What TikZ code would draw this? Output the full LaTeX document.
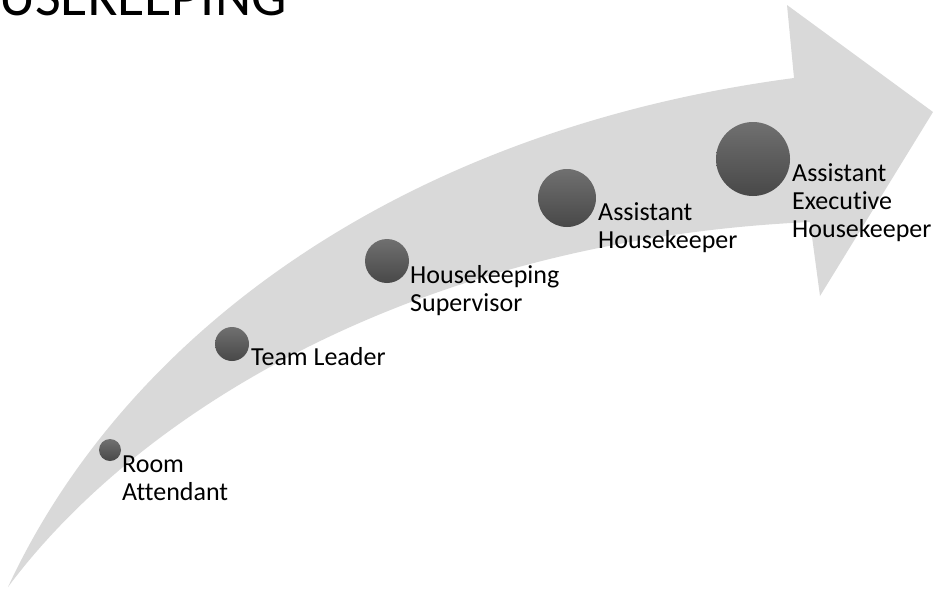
\documentclass[tikz,border=0pt]{standalone}
\usepackage{fontspec}
\setmainfont{Carlito}[Ligatures={NoCommon,NoContextual}]
\definecolor{arrowgray}{RGB}{217,217,217}
\definecolor{balltop}{RGB}{112,112,112}
\definecolor{ballbot}{RGB}{72,72,72}
\begin{document}
\begin{tikzpicture}[x=1pt,y=-1pt,
  stage/.style={circle, inner sep=0pt, minimum size=#1, top color=balltop, bottom color=ballbot, draw=none},
  lbl/.style={anchor=base west, inner sep=0pt, text=black, font=\fontsize{26}{28.3}\selectfont}]
\useasboundingbox (0,0) rectangle (933,589);
% curved arrow
\coordinate (tail) at (8,587);
\coordinate (nu) at (794,78);
\coordinate (ht) at (787,5);
\coordinate (tip) at (933,112);
\coordinate (hb) at (820,296);
\coordinate (nl) at (810,222);
\fill[arrowgray] (tail) .. controls (125,335) and (400,130) .. (nu)
  -- (ht) -- (tip) -- (hb) -- (nl)
  .. controls (420,240) and (140,410) .. (tail) -- cycle;
% title (cut off at the top)
\node[anchor=base west, inner sep=0pt, font=\fontsize{56}{56}\selectfont] (title) at (-1,15) {USEKEEPING};
% stages
\node[stage=22pt] (ra) at (110,450) {};
\node[stage=34pt] (tl) at (232,344) {};
\node[stage=44pt] (hs) at (387,261) {};
\node[stage=58pt] (ah) at (567,198) {};
\node[stage=74pt] (aeh) at (753,159) {};
% labels
\node[lbl] (ral) at (122,472) {\vtop{\hbox{Room}\hbox{Attendant}}};
\node[lbl] (tll) at (251,365) {Team Leader};
\node[lbl] (hsl) at (410,283) {\vtop{\hbox{Housekeeping}\hbox{Supervisor}}};
\node[lbl] (ahl) at (598,220) {\vtop{\hbox{Assistant}\hbox{Housekeeper}}};
\node[lbl] (aehl) at (792,181) {\vtop{\hbox{Assistant}\hbox{Executive}\hbox{Housekeeper}}};
\end{tikzpicture}
\end{document}
